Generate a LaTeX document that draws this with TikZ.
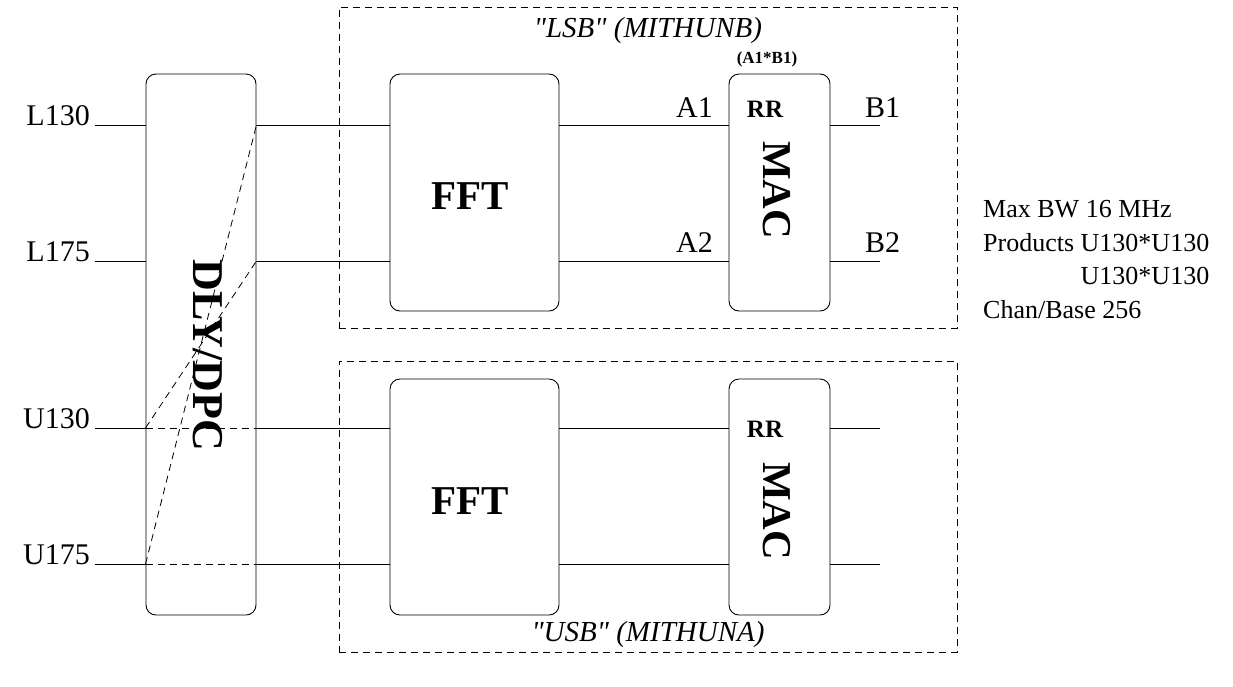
\documentclass[tikz,border=0pt]{standalone}
\usepackage{fontspec}
\setmainfont{Liberation Serif}
\newfontfamily\plainserif{Liberation Serif}
\begin{document}
\begin{tikzpicture}[x=1pt,y=-1pt,
  ln/.style={line width=0.9pt},
  dsh/.style={line width=0.8pt, dash pattern=on 7pt off 5pt},
  blk/.style={draw, line width=0.9pt, rounded corners=10pt, inner sep=0pt},
  grp/.style={draw, line width=0.8pt, dash pattern=on 7pt off 5pt, inner sep=0pt},
  lbl/.style={font=\fontsize{30}{35}\selectfont, inner sep=0pt},
  note/.style={font=\fontsize{26}{31}\selectfont, inner sep=0pt, anchor=base west},
  big/.style={font=\fontsize{41}{48}\selectfont\bfseries, inner sep=0pt},
  rr/.style={font=\fontsize{25}{30}\selectfont\bfseries, inner sep=0pt, anchor=base},
  ttl/.style={font=\plainserif\fontsize{29}{34}\selectfont\itshape, inner sep=0pt, anchor=base}]
\useasboundingbox (0,0) rectangle (1233,686);
% groups
\node[grp, minimum width=618pt, minimum height=321pt] (grpA) at (648,167.5) {};
\node[grp, minimum width=618pt, minimum height=291pt] (grpB) at (648,506.5) {};
% blocks
\node[blk, minimum width=110pt, minimum height=541pt] (dly) at (201,344.5) {};
\node[blk, minimum width=169pt, minimum height=237pt] (fftA) at (474.5,192.5) {};
\node[blk, minimum width=169pt, minimum height=236pt] (fftB) at (474.5,497) {};
\node[blk, minimum width=101pt, minimum height=237pt] (macA) at (779.5,192.5) {};
\node[blk, minimum width=101pt, minimum height=236pt] (macB) at (779.5,497) {};
% input / output coordinates
\coordinate (i1) at (95,125);
\coordinate (i2) at (95,261);
\coordinate (i3) at (95,428);
\coordinate (i4) at (95,564);
\coordinate (o1) at (880,125);
\coordinate (o2) at (880,261);
\coordinate (o3) at (880,428);
\coordinate (o4) at (880,564);
% connectors
\foreach \i in {i1,i2,i3,i4}{
  \draw[ln] (\i) -- (\i -| dly.west);
}
\foreach \i/\f/\m in {i1/fftA/macA,i2/fftA/macA,i3/fftB/macB,i4/fftB/macB}{
  \draw[ln] (\i -| dly.east) -- (\i -| \f.west);
  \draw[ln] (\i -| \f.east) -- (\i -| \m.west);
}
\foreach \o/\m in {o1/macA,o2/macA,o3/macB,o4/macB}{
  \draw[ln] (\o -| \m.east) -- (\o);
}
% crossings inside DLY/DPC
\draw[dsh] (i4 -| dly.west) -- (i1 -| dly.east);
\draw[dsh] (i3 -| dly.west) -- (i2 -| dly.east);
\draw[dsh] (i3 -| dly.west) -- (i3 -| dly.east);
\draw[dsh] (i4 -| dly.west) -- (i4 -| dly.east);
% block texts
\node[big, rotate=-90, font=\fontsize{44}{50}\selectfont\bfseries] (tdly) at (208,355) {DLY/DPC};
\node[big, anchor=base] (tfftA) at (470,209) {FFT};
\node[big, anchor=base] (tfftB) at (470,514) {FFT};
\node[big, rotate=-90] (tmacA) at (777,190) {MAC};
\node[big, rotate=-90] (tmacB) at (777,511) {MAC};
\node[rr] (rrA) at (765,117) {RR};
\node[rr] (rrB) at (765,437) {RR};
\node[rr, font=\fontsize{17}{21}\selectfont\bfseries] (prod) at (767,63) {(A1*B1)};
% labels
\node[lbl, anchor=base east] (l1) at (90,125) {L130};
\node[lbl, anchor=base east] (l2) at (90,261) {L175};
\node[lbl, anchor=base east] (l3) at (90,428) {U130};
\node[lbl, anchor=base east] (l4) at (90,564) {U175};
\node[lbl, anchor=base east] (a1) at (713,117) {A1};
\node[lbl, anchor=base east] (a2) at (713,252) {A2};
\node[lbl, anchor=base west] (b1) at (865,117) {B1};
\node[lbl, anchor=base west] (b2) at (865,252) {B2};
\node[ttl] (tA) at (648,37) {"LSB" (MITHUNB)};
\node[ttl] (tB) at (648,641) {"USB" (MITHUNA)};
% notes
\node[note] (n1) at (983,217) {Max BW 16 MHz};
\node[note] (n2) at (983,251) {Products U130*U130};
\node[note] (n3) at (983,284) {\phantom{Products }U130*U130};
\node[note] (n4) at (983,318) {Chan/Base 256};
\end{tikzpicture}
\end{document}
